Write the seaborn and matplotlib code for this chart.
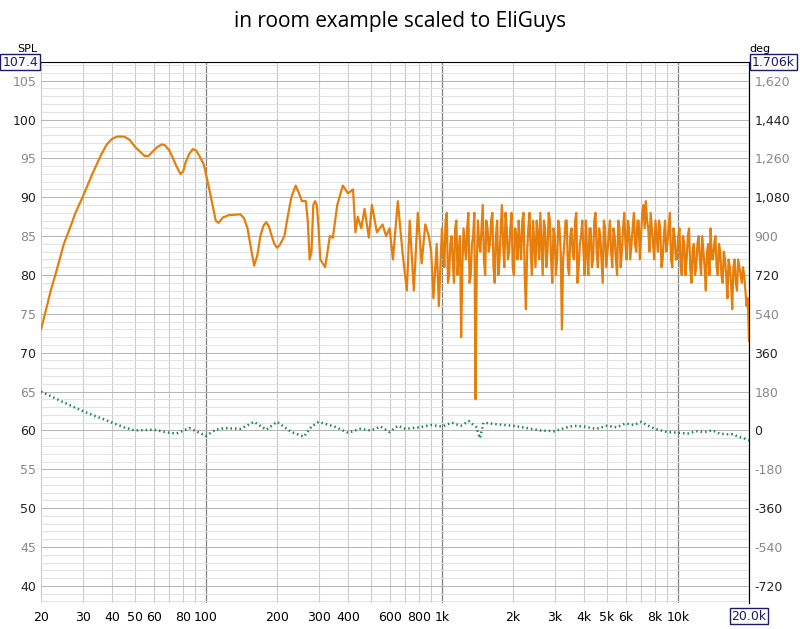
import numpy as np
import pandas as pd
import matplotlib
matplotlib.use("Agg")
import matplotlib.pyplot as plt
import seaborn as sns
from matplotlib.ticker import FixedLocator, NullFormatter

# --- SPL smooth/low region (freq Hz, dB) ---
low_freq = [20, 21, 22, 23, 25, 26.5, 28, 30, 33, 36, 38, 40, 42, 45, 47.5, 50, 52, 55, 57,
            60, 62.5, 65, 67, 70, 72, 75, 78, 80, 82, 85, 88, 91, 95, 98,
            100, 105, 110, 113, 118, 125, 140, 145, 150, 155, 160, 165, 170, 175, 180, 185,
            190, 195, 200, 205, 215, 222, 230, 240, 248, 255, 265, 270, 275, 280, 285, 290,
            295, 300, 305, 320, 335, 345, 360, 380, 400, 420, 430, 440,
            455, 470, 490, 505, 530, 560, 580, 600, 620, 650, 680, 710, 730, 760, 790,
            820, 850, 880, 900, 920, 950, 970]
low_spl = [73, 75.5, 78, 80, 84, 86, 88, 90, 93, 95.5, 96.8, 97.5, 97.8, 97.8, 97.4, 96.5,
           96, 95.3, 95.3, 96, 96.5, 96.8, 96.7, 96, 95.2, 94, 93, 93.3, 94.5, 95.6, 96.2,
           96, 95, 94.2, 93, 90, 87, 86.7, 87.4, 87.7, 87.8, 87.3, 86, 83.5, 81.2, 82.5, 85,
           86.3, 86.8, 86.2, 85, 84, 83.5, 83.8, 85, 87.5, 90, 91.5, 90.5, 89.5, 89.5, 87,
           82, 83, 89, 89.5, 89, 86, 82, 81, 85, 84.8, 89, 91.5, 90.5, 91,
           85.5, 87.5, 86, 88.5, 84.8, 89, 85.5, 86.5, 85, 86, 82, 89.5, 83, 78, 87,
           78, 88, 81.5, 86.5, 85, 83, 77, 84, 76]
# --- SPL dense region 1k-20k (log-spaced), two interleaved passes ---
high_spl = [86, 81, 88, 80, 85, 79, 87, 83, 72, 86,
            82, 88, 80, 85, 64, 87, 83, 89, 80, 86,
            84, 88, 79, 87, 82, 89, 81, 86, 83, 88,
            80, 85, 87, 82, 88, 75.6, 86, 83, 87, 81,
            85, 88, 80, 86, 83, 87, 79, 85, 82, 86,
            73, 84, 87, 80, 86, 82, 88, 81, 85, 83,
            87, 80, 86, 82, 88, 81, 85, 79, 86, 83,
            87, 81, 85, 80, 86, 83, 88, 82, 86, 84,
            88, 83, 87, 85, 89, 89.5, 86, 88, 84, 87,
            83, 86, 82, 87, 84, 88, 81, 85, 82, 86,
            80, 84, 82, 86, 79, 84, 81, 85, 80, 83,
            78, 84, 86, 82, 85, 80, 83, 79, 82, 77,
            81, 75.6, 82, 78, 81, 79, 80, 76, 71.5]
high_spl_b = [83, 87, 79, 84, 82, 86, 80, 85, 81, 84,
              86, 79, 84, 88, 81, 84, 86, 82, 87, 83,
              87, 81, 85, 80, 86, 84, 88, 82, 86, 81,
              86, 82, 84, 87, 80, 83, 88, 80, 84, 87,
              82, 84, 87, 81, 88, 82, 86, 80, 87, 83,
              82, 87, 81, 85, 83, 87, 79, 84, 87, 80,
              83, 86, 81, 87, 83, 86, 82, 87, 81, 85,
              83, 86, 82, 87, 81, 86, 84, 87, 82, 86,
              84, 87, 82, 88, 86, 87, 83, 86, 82, 85,
              87, 81, 85, 83, 86, 82, 86, 82, 85, 81,
              85, 80, 85, 81, 83, 80, 84, 82, 85, 81,
              83, 80, 82, 84, 81, 84, 80, 83, 80, 82,
              79, 81, 79, 82, 80, 81, 78, 77]
high_freq = np.geomspace(1000, 20000, len(high_spl))
high_freq_b = np.sqrt(high_freq[:-1] * high_freq[1:])

# --- green (phase-like) trace, plotted in SPL units ---
g_freq = [20, 25, 30, 35, 40, 45, 50, 60, 70, 75, 85, 100, 110, 120, 140, 160, 180, 200,
          230, 260, 280, 300, 350, 400, 450, 500, 550, 600, 650, 700, 800, 900, 1000,
          1100, 1200, 1300, 1400, 1450, 1500, 1700, 2000, 2300, 2600, 3000, 3300, 3600,
          4000, 4500, 5000, 5500, 6000, 6500, 7000, 7500, 8000, 9000, 10000, 11000,
          12000, 13000, 14000, 15000, 16000, 17000, 18000, 19000, 20000]
g_val = [65, 63.6, 62.5, 61.7, 61, 60.4, 60, 60.1, 59.7, 59.6, 60.3, 59.3, 60.1, 60.3,
         60.2, 61.1, 60.1, 61.1, 59.8, 59.2, 60.5, 61.1, 60.5, 59.7, 60.2, 60.0, 60.5,
         59.8, 60.6, 60.2, 60.4, 60.7, 60.5, 61.0, 60.6, 61.2, 60.4, 59.0, 61.0, 60.8,
         60.6, 60.3, 60.0, 59.9, 60.3, 60.6, 60.5, 60.2, 60.6, 60.4, 60.9, 60.7, 61.1,
         60.6, 60.2, 59.8, 59.7, 59.6, 59.9, 59.8, 60.0, 59.6, 59.5, 59.5, 59.2, 59.0, 58.7]

spl = pd.DataFrame({"f": list(low_freq) + list(np.ravel(np.column_stack(
                        [high_freq[:-1], high_freq_b]))) + [high_freq[-1]],
                    "db": low_spl + list(np.ravel(np.column_stack(
                        [high_spl[:-1], high_spl_b]))) + [high_spl[-1]]})
grn = pd.DataFrame({"f": g_freq, "db": g_val})

fig = plt.figure(figsize=(8, 6.29), dpi=100)
ax = fig.add_axes([41/800, 1-603/629, 708/800, 541/629])
ax.set_xscale("log")
ax.set_xlim(20, 20000)
ax.set_ylim(37.8, 107.4)

minor = [f*m for f in (10, 100, 1000, 10000) for m in range(2, 10) if 20 <= f*m <= 20000]
for f in minor:
    ax.axvline(f, color="#cccccc", lw=0.8, zorder=0)
for f in (100, 1000, 10000):
    ax.axvline(f, color="#808080", lw=0.9, zorder=0)
for y in range(38, 108):
    ax.axhline(y, color="#e2e2e2" if y % 5 else "#b4b4b4", lw=0.7, zorder=0)

sns.lineplot(data=spl, x="f", y="db", ax=ax, color="#e67e0c", lw=1.6, zorder=3, sort=False)
sns.lineplot(data=grn, x="f", y="db", ax=ax, color="#168a4a", lw=1.8,
             linestyle=(0, (0.6, 1.2)), zorder=2)

ax.set_xlabel(""); ax.set_ylabel("")
xt = [20, 30, 40, 50, 60, 80, 100, 200, 300, 400, 600, 800, 1000, 2000, 3000, 4000,
      5000, 6000, 8000, 10000]
xl = ["20", "30", "40", "50", "60", "80", "100", "200", "300", "400", "600", "800", "1k",
      "2k", "3k", "4k", "5k", "6k", "8k", "10k"]
ax.xaxis.set_major_locator(FixedLocator(xt))
ax.set_xticklabels(xl)
ax.xaxis.set_minor_formatter(NullFormatter())
ax.tick_params(axis="x", which="both", length=0, labelsize=9, pad=6)
yt = list(range(40, 106, 5))
ax.set_yticks(yt)
ax.set_yticklabels([str(v) for v in yt])
for lab, v in zip(ax.get_yticklabels(), yt):
    lab.set_color("#222222" if v % 10 == 0 else "#888888")
ax.tick_params(axis="y", length=0, labelsize=9)
for s in ("left", "bottom"):
    ax.spines[s].set_visible(False)
ax.spines["top"].set_color("black")
ax.spines["right"].set_color("black")

ax2 = ax.twinx()
ax2.set_ylim((37.8-60)*36, 1706.4)
dt = list(range(-720, 1621, 180))
ax2.set_yticks(dt)
ax2.set_yticklabels([f"{v:,}" for v in dt])
for lab, v in zip(ax2.get_yticklabels(), dt):
    lab.set_color("#222222" if (v // 180) % 2 == 0 else "#888888")
ax2.tick_params(axis="y", length=0, labelsize=9, pad=4)
for s in ("left", "bottom", "top"):
    ax2.spines[s].set_visible(False)
ax2.spines["right"].set_color("black")

box = dict(boxstyle="square,pad=0.15", fc="white", ec="#1a1a6e", lw=1)
fig.text(38/800, 1-62/629, "107.4", ha="right", va="center", fontsize=9, color="#1a1a6e", bbox=box)
fig.text(752/800, 1-62/629, "1.706k", ha="left", va="center", fontsize=9, color="#1a1a6e", bbox=box)
fig.text(749/800, 1-616/629, "20.0k", ha="center", va="center", fontsize=9, color="#1a1a6e", bbox=box)
fig.text(27/800, 1-49/629, "SPL", ha="center", va="center", fontsize=8)
fig.text(760/800, 1-49/629, "deg", ha="center", va="center", fontsize=8)
fig.text(0.5, 1-22/629, "in room example scaled to EliGuys", ha="center", va="center", fontsize=15,
         family="Open Sans")

fig.savefig("out.png", dpi=100)
